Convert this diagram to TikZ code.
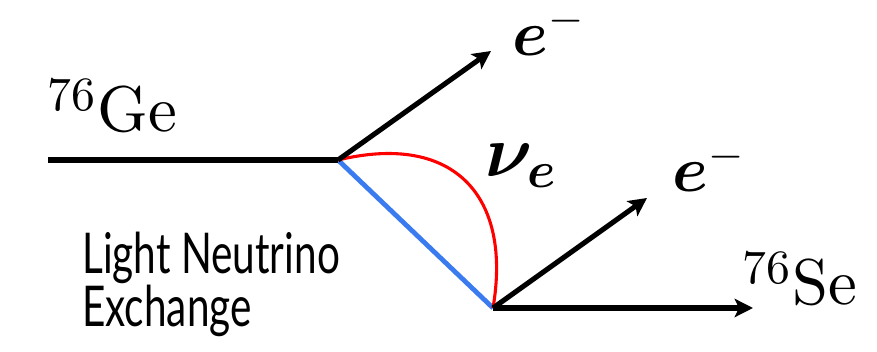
\RequirePackage{fix-cm}
\documentclass[tikz,border=0pt]{standalone}
\usepackage{fontspec}
\usepackage{amsmath,bm}
\newfontfamily\captionfont[FakeStretch=0.72]{Lato}
\newfontfamily\nucfont[Extension=.otf]{lmroman10-regular}
\newcommand\isotope[2]{{\fontsize{34}{34}\selectfont\raisebox{15.5pt}{#1}}\hspace{2pt}#2}
\usetikzlibrary{arrows.meta,positioning}
\definecolor{nublue}{HTML}{3B7BF0}
\definecolor{nured}{HTML}{FF0000}
\tikzset{>={Stealth[length=13pt,width=13pt,inset=3pt]},
  leg/.style={draw=black,line width=3.6pt},
  lepton/.style={->,draw=black,line width=3.6pt},
  propagator/.style={draw=nublue,line width=3.4pt},
  nuline/.style={draw=nured,line width=2.2pt},
  nuclab/.style={anchor=base west,inner sep=0pt,font=\nucfont\fontsize{46}{52}\selectfont},
  elab/.style={anchor=base west,inner sep=0pt,font=\fontsize{46}{52}\selectfont},
  caption/.style={anchor=base west,inner sep=0pt,align=left,
    font=\captionfont\fontsize{40}{35.6}\selectfont}}

\begin{document}
\begin{tikzpicture}[x=0.025cm,y=-0.025cm]
\useasboundingbox (0,0) rectangle (877,352);
% vertices and free ends
\coordinate (gein) at (48,160);
\coordinate (v1) at (338,160);
\coordinate (v2) at (493,308);
\coordinate (e1) at (491,51);
\coordinate (e2) at (647,198);
\coordinate (seout) at (753,308);
% lines
\draw[propagator] (v1) -- (v2);
\draw[nuline] (v1) .. controls (455,132) and (512,197) .. (v2);
\draw[leg] (gein) -- (v1);
\draw[lepton] (v1) -- (e1);
\draw[lepton] (v2) -- (e2);
\draw[lepton] (v2) -- (seout);
% labels
\node[nuclab] (ge) at (47,132) {\isotope{76}{Ge}};
\node[nuclab] (se) at (742,305) {\isotope{76}{Se}};
\node[elab] (elec1) at (512,56) {$\boldsymbol{e}^{-}$};
\node[elab] (elec2) at (672,192) {$\boldsymbol{e}^{-}$};
\node[anchor=base west,inner sep=0pt,font=\fontsize{52}{60}\selectfont] (nu) at (485,177)
  {$\boldsymbol{\nu}_{\boldsymbol{e}}$};
\node[caption] (exch) at (82,327) {Light Neutrino\\Exchange};
\end{tikzpicture}
\end{document}
